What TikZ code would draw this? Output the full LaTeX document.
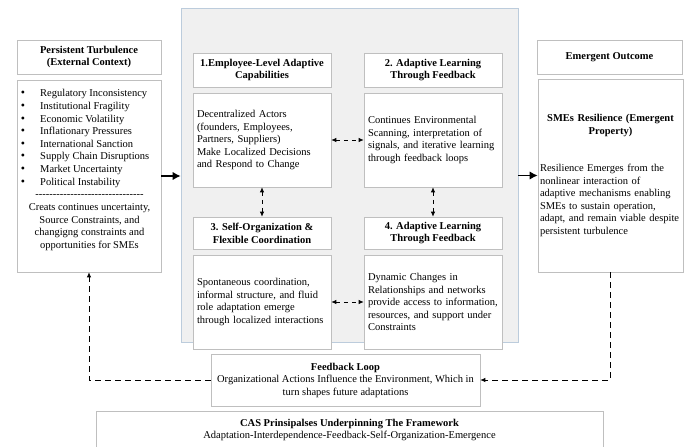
\documentclass[tikz,border=0pt]{standalone}
\usepackage{fontspec}
\setmainfont{Liberation Serif}
\newfontfamily\plainserif{Liberation Serif}
\usepackage{tikz}
\usetikzlibrary{arrows.meta,positioning}

\definecolor{boxgray}{RGB}{191,191,191}
\definecolor{panelgray}{RGB}{240,240,240}
\definecolor{panelline}{RGB}{188,204,220}

\begin{document}
\begin{tikzpicture}[x=1pt,y=-1pt,
		every node/.style={font=\fontsize{10.5}{12.5}\selectfont},
		box/.style={draw=boxgray, fill=white, line width=0.6pt, inner sep=0pt},
		headbox/.style={box, align=center, font=\fontsize{10.5}{12.8}\selectfont\bfseries},
		textbox/.style={box, align=left, inner xsep=4pt, text width=#1, execute at begin node={\hyphenpenalty=10000\relax}},
		plain/.style={inner sep=0pt},
		bigarrow/.style={-{Latex[length=8pt,width=8.5pt]}, line width=1.8pt},
		linkarrow/.style={{Latex[length=5pt,width=4.5pt]}-{Latex[length=5pt,width=4.5pt]}, line width=0.8pt, dash pattern=on 4pt off 4pt},
		loopline/.style={-{Latex[length=5pt,width=4.5pt]}, line width=0.8pt, dash pattern=on 6pt off 4pt}]
			\useasboundingbox (0,0) rectangle (689,447);
			% middle panel
			\node (panel) [draw=panelline, fill=panelgray, line width=0.6pt, minimum width=337pt, minimum height=334pt, inner sep=0pt] at (349.5,175) {};
			% left column
			\node (lhead) [headbox, minimum width=144pt, minimum height=34pt] at (89,57) {Persistent Turbulence\\(External Context)};
			\node (lcont) [box, minimum width=144pt, minimum height=192pt] at (89,176) {};
			\foreach \t [count=\i] in {Regulatory Inconsistency, Institutional Fragility, Economic Volatility, Inflationary Pressures, International Sanction, Supply Chain Disruptions, Market Uncertainty, Political Instability} {
				\node (dot\i) [plain, anchor=base] at (23,{84.2+12.63*\i}) {\large\textbullet};
				\node (item\i) [plain, anchor=base west] at (40,{84.2+12.63*\i}) {\t};
			}
			\node (rule) [plain, anchor=base] at (89.5,197.6) {\plainserif -------------------------------};
			\foreach \t [count=\i] in {{Creats continues uncertainty,}, {Source Constraints, and}, {changigng constraints and}, {opportunities for SMEs}} {
				\node (note\i) [plain, anchor=base] at (89.5,{197.6+12.7*\i}) {\t};
			}
			% four mechanisms
			\node (b1h) [headbox, minimum width=138pt, minimum height=34pt] at (262,70) {1.Employee-Level Adaptive\\Capabilities};
			\node (b2h) [headbox, minimum width=138pt, minimum height=34pt] at (433,70) {2. Adaptive Learning\\Through Feedback};
			\node (b1c) [textbox=130pt, minimum height=94pt] at (262,140) {Decentralized Actors\\(founders, Employees,\\Partners, Suppliers)\\Make Localized Decisions\\and Respond to Change};
			\node (b2c) [textbox=130pt, minimum height=94pt] at (433,140) {Continues Environmental\\Scanning, interpretation of\\signals, and iterative learning\\through feedback loops};
			\node (b3h) [headbox, minimum width=138pt, minimum height=32pt] at (262,233) {3. Self-Organization \&\\Flexible Coordination};
			\node (b4h) [headbox, minimum width=138pt, minimum height=32pt] at (433,233) {4. Adaptive Learning\\Through Feedback};
			\node (b3c) [textbox=130pt, minimum height=94pt] at (262,302) {Spontaneous coordination,\\informal structure, and fluid\\role adaptation emerge\\through localized interactions};
			\node (b4c) [textbox=130pt, minimum height=94pt] at (433,302) {Dynamic Changes in\\Relationships and networks\\provide access to information,\\resources, and support under\\Constraints};
			% right column
			\node (rhead) [headbox, minimum width=145pt, minimum height=34pt] at (609.5,57) {Emergent Outcome};
			\node (rcont) [textbox=141pt, inner xsep=2pt, minimum height=193pt] at (610.5,175.5) {{\centering\bfseries SMEs Resilience (Emergent\\Property)\par}\vspace{25pt}Resilience Emerges from the\\nonlinear interaction of\\adaptive mechanisms enabling\\SMEs to sustain operation,\\adapt, and remain viable despite\\persistent turbulence};
			% bottom boxes
			\node (fb) [box, align=center, minimum width=269pt, minimum height=52pt] at (345.5,380) {\textbf{Feedback Loop}\\Organizational Actions Influence the Environment, Which in\\turn shapes future adaptations};
			\node (cas) [box, align=center, minimum width=507pt, minimum height=38pt] at (349.5,430) {\textbf{CAS Prinsipalses Underpinning The Framework}\\Adaptation-Interdependence-Feedback-Self-Organization-Emergence};
			% arrows
			\draw[bigarrow] (lcont.east) -- (lcont.east -| panel.west);
			\draw[bigarrow] (panel.east |- rcont.west) -- (rcont.west);
			\draw[linkarrow] (b1c) -- (b2c);
			\draw[linkarrow] (b1c) -- (b3h);
			\draw[linkarrow] (b2c) -- (b4h);
			\draw[linkarrow] (b3c) -- (b4c);
			\draw[loopline] (fb.west) -| (lcont.south);
			\draw[loopline] (rcont.south) |- (fb.east);
		\end{tikzpicture}
\end{document}
